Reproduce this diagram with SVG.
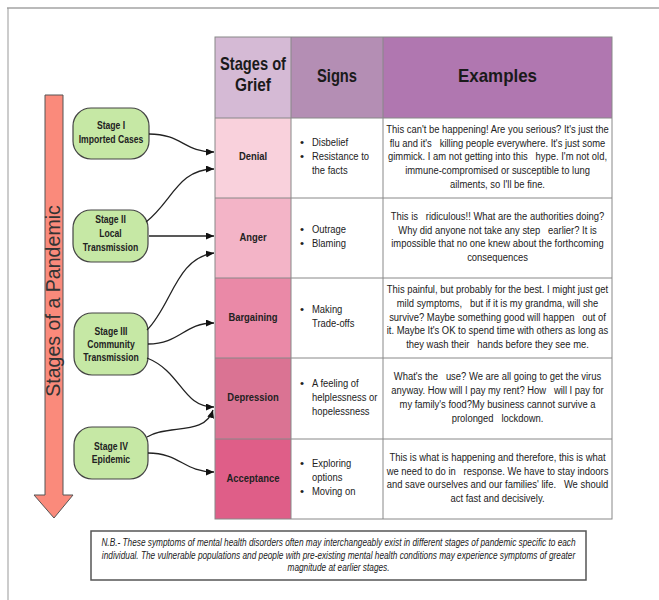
<svg xmlns="http://www.w3.org/2000/svg" width="659" height="600" viewBox="0 0 659 600">
<style>
text{font-family:"Liberation Sans",Arial,sans-serif;fill:#222;white-space:pre}
.h{font-size:19px;font-weight:bold;text-anchor:middle;fill:#1a1a1a}
.b{font-size:11.5px;text-anchor:middle}
.s{font-size:11.5px}
.lb{font-size:11.5px;font-weight:bold;text-anchor:middle}
.nd{font-size:10.5px;font-weight:bold;text-anchor:middle}
.nb{font-size:10.1px;font-style:italic;text-anchor:middle}
.node{fill:#c6e8a5;stroke:#444;stroke-width:1.2}
.grid{stroke:#888;stroke-width:1;fill:none}
.con{fill:none;stroke:#222;stroke-width:1.3;marker-end:url(#ah)}
</style>
<defs>
<marker id="ah" markerUnits="userSpaceOnUse" markerWidth="9" markerHeight="8" refX="8" refY="3.5" orient="auto">
<path d="M0,0 L8,3.5 L0,7 z" fill="#111"/>
</marker>
</defs>
<rect width="659" height="600" fill="#fff"/>
<g id="frame">
<line x1="7" y1="8" x2="659" y2="8" stroke="#777" stroke-width="1.2"/>
<line x1="8" y1="8" x2="8" y2="600" stroke="#999" stroke-width="1"/>
</g>
<g id="pandemic-arrow">
<path d="M45,95 H63 V495 H73 L54,518 L34,495 H45 Z" fill="#fa8a7b" stroke="#555" stroke-width="1"/>
<text transform="translate(60,301) rotate(-90)" style="font-size:19.6px;text-anchor:middle;fill:#333">Stages of a Pandemic</text>
</g>
<g id="table">
<rect x="215" y="37" width="76" height="81" fill="#d5bad5"/>
<rect x="291" y="37" width="92" height="81" fill="#b48eb4"/>
<rect x="383" y="37" width="229" height="81" fill="#b077b0"/>
<rect x="215" y="118" width="76" height="80" fill="#f9d1dc"/>
<rect x="215" y="198" width="76" height="80" fill="#f3b4c7"/>
<rect x="215" y="278" width="76" height="80" fill="#ea89a7"/>
<rect x="215" y="358" width="76" height="81" fill="#da7393"/>
<rect x="215" y="439" width="76" height="80" fill="#df5e88"/>
<rect x="291" y="118" width="321" height="401" fill="#fff"/>
<rect class="grid" x="215" y="37" width="397" height="482"/>
<path class="grid" d="M291,37 V519 M383,37 V519 M215,118 H612 M215,198 H612 M215,278 H612 M215,358 H612 M215,439 H612"/>
<text class="h" x="253" y="70" textLength="66" lengthAdjust="spacingAndGlyphs">Stages of</text>
<text class="h" x="253" y="91" textLength="36" lengthAdjust="spacingAndGlyphs">Grief</text>
<text class="h" x="337" y="82" textLength="40" lengthAdjust="spacingAndGlyphs">Signs</text>
<text class="h" x="497.5" y="82" textLength="79" lengthAdjust="spacingAndGlyphs">Examples</text>
</g>
<g id="row-denial">
<text class="lb" transform="translate(253,160) scale(0.82,1)">Denial</text>
<text class="s" x="300" y="146">•</text><text class="s" transform="translate(312,146) scale(0.82,1)">Disbelief</text>
<text class="s" x="300" y="160">•</text><text class="s" transform="translate(312,160) scale(0.82,1)">Resistance to</text>
<text class="s" transform="translate(312,174) scale(0.82,1)">the facts</text>
<text class="b" transform="translate(497.5,133) scale(0.82,1)">This can't be happening! Are you serious? It's just the</text>
<text class="b" transform="translate(497.5,146.5) scale(0.82,1)">flu and it's   killing people everywhere. It's just some</text>
<text class="b" transform="translate(497.5,160) scale(0.82,1)">gimmick. I am not getting into this   hype. I'm not old,</text>
<text class="b" transform="translate(497.5,174) scale(0.82,1)">immune-compromised or susceptible to lung</text>
<text class="b" transform="translate(497.5,188) scale(0.82,1)">ailments, so I'll be fine.</text>
</g>
<g id="row-anger">
<text class="lb" transform="translate(253,240.5) scale(0.82,1)">Anger</text>
<text class="s" x="300" y="233">•</text><text class="s" transform="translate(312,233) scale(0.82,1)">Outrage</text>
<text class="s" x="300" y="247">•</text><text class="s" transform="translate(312,247) scale(0.82,1)">Blaming</text>
<text class="b" transform="translate(497.5,220) scale(0.82,1)">This is   ridiculous!! What are the authorities doing?</text>
<text class="b" transform="translate(497.5,233.5) scale(0.82,1)">Why did anyone not take any step   earlier? It is</text>
<text class="b" transform="translate(497.5,247) scale(0.82,1)">impossible that no one knew about the forthcoming</text>
<text class="b" transform="translate(497.5,261) scale(0.82,1)">consequences</text>
</g>
<g id="row-bargaining">
<text class="lb" transform="translate(253,320.5) scale(0.82,1)">Bargaining</text>
<text class="s" x="300" y="313">•</text><text class="s" transform="translate(312,313) scale(0.82,1)">Making</text>
<text class="s" transform="translate(312,327) scale(0.82,1)">Trade-offs</text>
<text class="b" transform="translate(497.5,293) scale(0.82,1)">This painful, but probably for the best. I might just get</text>
<text class="b" transform="translate(497.5,307) scale(0.82,1)">mild symptoms,   but if it is my grandma, will she</text>
<text class="b" transform="translate(497.5,320.5) scale(0.82,1)">survive? Maybe something good will happen   out of</text>
<text class="b" transform="translate(497.5,334) scale(0.82,1)">it. Maybe It's OK to spend time with others as long as</text>
<text class="b" transform="translate(497.5,348) scale(0.82,1)">they wash their   hands before they see me.</text>
</g>
<g id="row-depression">
<text class="lb" transform="translate(253,400.5) scale(0.82,1)">Depression</text>
<text class="s" x="300" y="387">•</text><text class="s" transform="translate(312,387) scale(0.82,1)">A feeling of</text>
<text class="s" transform="translate(312,401) scale(0.82,1)">helplessness or</text>
<text class="s" transform="translate(312,414.5) scale(0.82,1)">hopelessness</text>
<text class="b" transform="translate(497.5,380) scale(0.82,1)">What's the   use? We are all going to get the virus</text>
<text class="b" transform="translate(497.5,394) scale(0.82,1)">anyway. How will I pay my rent? How   will I pay for</text>
<text class="b" transform="translate(497.5,407.5) scale(0.82,1)">my family's food?My business cannot survive a</text>
<text class="b" transform="translate(497.5,421.5) scale(0.82,1)">prolonged   lockdown.</text>
</g>
<g id="row-acceptance">
<text class="lb" transform="translate(253,481.5) scale(0.82,1)">Acceptance</text>
<text class="s" x="300" y="467">•</text><text class="s" transform="translate(312,467) scale(0.82,1)">Exploring</text>
<text class="s" transform="translate(312,481) scale(0.82,1)">options</text>
<text class="s" x="300" y="495">•</text><text class="s" transform="translate(312,495) scale(0.82,1)">Moving on</text>
<text class="b" transform="translate(497.5,461) scale(0.82,1)">This is what is happening and therefore, this is what</text>
<text class="b" transform="translate(497.5,474.5) scale(0.82,1)">we need to do in   response. We have to stay indoors</text>
<text class="b" transform="translate(497.5,488) scale(0.82,1)">and save ourselves and our families' life.   We should</text>
<text class="b" transform="translate(497.5,501.5) scale(0.82,1)">act fast and decisively.</text>
</g>
<g id="stage1">
<rect class="node" x="73" y="108" width="76" height="51" rx="18"/>
<text class="nd" transform="translate(111,129) scale(0.82,1)">Stage I</text>
<text class="nd" transform="translate(111,143) scale(0.82,1)">Imported Cases</text>
</g>
<g id="stage2">
<rect class="node" x="73" y="210" width="75" height="52" rx="18"/>
<text class="nd" transform="translate(110.5,223) scale(0.82,1)">Stage II</text>
<text class="nd" transform="translate(110.5,237) scale(0.82,1)">Local</text>
<text class="nd" transform="translate(110.5,250.5) scale(0.82,1)">Transmission</text>
</g>
<g id="stage3">
<rect class="node" x="74" y="313" width="74" height="62" rx="18"/>
<text class="nd" transform="translate(111,335) scale(0.82,1)">Stage III</text>
<text class="nd" transform="translate(111,348) scale(0.82,1)">Community</text>
<text class="nd" transform="translate(111,361) scale(0.82,1)">Transmission</text>
</g>
<g id="stage4">
<rect class="node" x="74" y="427" width="74" height="52" rx="18"/>
<text class="nd" transform="translate(111,449.5) scale(0.82,1)">Stage IV</text>
<text class="nd" transform="translate(111,463) scale(0.82,1)">Epidemic</text>
</g>
<g id="connectors">
<path class="con" d="M149,134 C182,134 184,152 214,152"/>
<path class="con" d="M146,222 C172,202 178,169 214,169"/>
<path class="con" d="M149,236 L214,236"/>
<path class="con" d="M147,330 C172,305 176,258 214,253"/>
<path class="con" d="M148,344 C180,344 184,323 214,323"/>
<path class="con" d="M147,358 C182,372 182,407 214,407"/>
<path class="con" d="M147,437 C168,424 205,436 213,410"/>
<path class="con" d="M148,453 C180,453 184,472 214,472"/>
</g>
<g id="note">
<rect x="91" y="531" width="495" height="49" fill="#fff" stroke="#555" stroke-width="1.5"/>
<text class="nb" transform="translate(338.5,546) scale(0.82,1)">N.B.- These symptoms of mental health disorders often may interchangeably exist in different stages of pandemic specific to each</text>
<text class="nb" transform="translate(338.5,558.5) scale(0.82,1)">individual. The vulnerable populations and people with pre-existing mental health conditions may experience symptoms of greater</text>
<text class="nb" transform="translate(338.5,571) scale(0.82,1)">magnitude at earlier stages.</text>
</g>
</svg>
